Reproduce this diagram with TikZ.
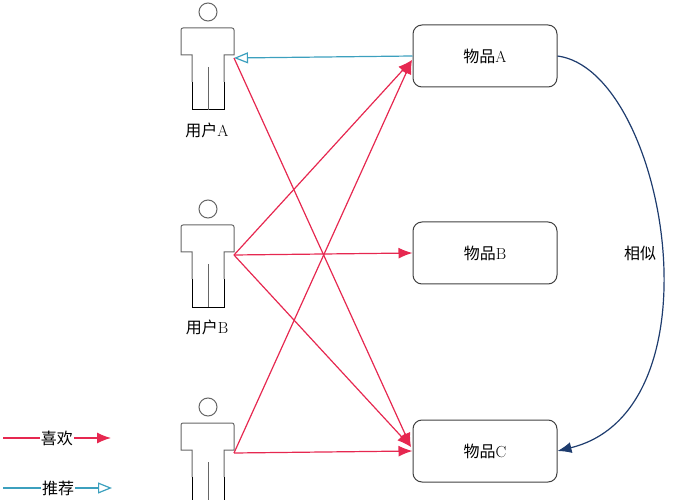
\documentclass[tikz,border=0pt]{standalone}
\usepackage{fontspec}
\newfontfamily\cjk{Noto Sans CJK SC}
\usetikzlibrary{arrows.meta}
\definecolor{likec}{RGB}{230,40,80}
\definecolor{recc}{RGB}{60,160,190}
\definecolor{simc}{RGB}{30,60,110}
\tikzset{
 item/.style={draw=black!75,line width=1pt,rounded corners=9pt,minimum width=144pt,minimum height=62pt,font=\cjk\fontsize{16}{16}\selectfont},
 like/.style={draw=likec,line width=1.2pt,-{Latex[length=14pt,width=11pt]}},
 rec/.style={draw=recc,line width=1.2pt,-{Triangle[open,length=14pt,width=11pt,fill=white]}},
 lbl/.style={font=\cjk\fontsize{16}{16}\selectfont}
}
\newcommand{\person}[3]{% name, x, y (head center)
 \begin{scope}[shift={(#2,#3)},draw=black!60,line width=1pt]
 \draw (0,0) circle (9);
 \draw (-16,70) -- (-16,43) -- (-27,43) -- (-27,20) [rounded corners=2pt]-- (-27,16) -- (26,16) -- (26,20)[sharp corners] -- (26,43) -- (16,43) -- (16,70);
 \draw[black] (-16,70) -- (-16,98) -- (16,98) -- (16,70);
 \draw (0,55) -- (0,98);
 \coordinate (#1) at (26,46);
 \end{scope}}
\begin{document}
\begin{tikzpicture}[x=1pt,y=-1pt]
\useasboundingbox (0,0) rectangle (681,500);
\person{ua}{208}{12}
\person{ub}{208}{209}
\person{uc}{208}{407}
\node[lbl] (la) at (207,130) {用户{\rmfamily A}};
\node[lbl] (lb) at (207,327) {用户{\rmfamily B}};
\node[item] (ia) at (485,56) {物品{\rmfamily A}};
\node[item] (ib) at (485,253) {物品{\rmfamily B}};
\node[item] (ic) at (485,451) {物品{\rmfamily C}};
\coordinate (iaw) at (412,60);
\coordinate (icw) at (411,447);
\draw[rec] (ia.west) -- (ua);
\draw[like] (ua) -- (icw);
\draw[like] (ub) -- (iaw);
\draw[like] (ub) -- (ib.west);
\draw[like] (ub) -- (icw);
\draw[like] (uc) -- (iaw);
\draw[like] (uc) -- (ic.west);
\draw[draw=simc,line width=1.2pt,-{Latex[length=14pt,width=11pt]}] (ia.east) .. controls (665,70) and (725,410) .. (ic.east);
\node[lbl,fill=white,inner sep=2pt] (sim) at (640,253) {相似};
\node[lbl,inner sep=1pt] (lk) at (57,438) {喜欢};
\node[lbl,inner sep=1pt] (rc) at (58,488) {推荐};
\coordinate (lk0) at (3,438); \coordinate (lk1) at (111,438);
\coordinate (rc0) at (3,488); \coordinate (rc1) at (112,488);
\draw[draw=likec,line width=1.2pt] (lk0) -- (lk.west);
\draw[like] (lk.east) -- (lk1);
\draw[draw=recc,line width=1.2pt] (rc0) -- (rc.west);
\draw[rec] (rc.east) -- (rc1);
\end{tikzpicture}
\end{document}
